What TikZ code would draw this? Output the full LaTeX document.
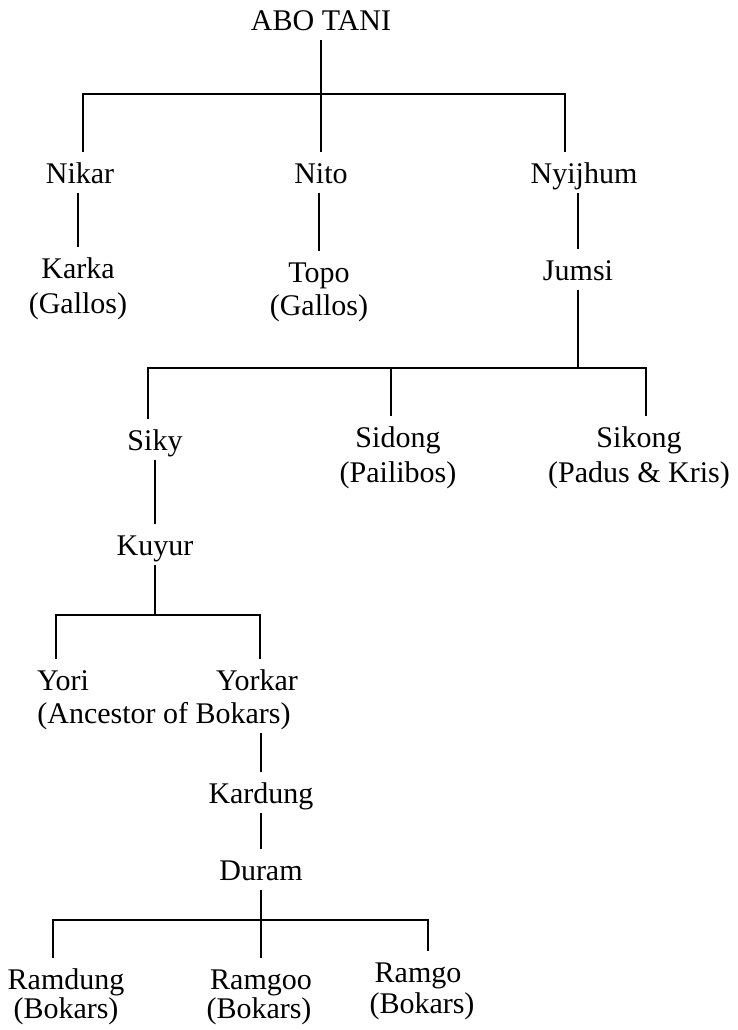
\documentclass[tikz,border=0pt]{standalone}
\usepackage{fontspec}
\setmainfont{Liberation Serif}
\usetikzlibrary{positioning}

\begin{document}
\begin{tikzpicture}[
        x=0.5pt, y=-0.5pt,
        person/.style={anchor=base, font=\fontsize{15}{18}\selectfont, inner xsep=2pt, inner ysep=5pt, text height=10.5pt, text depth=0pt},
        clan/.style={person},
        link/.style={line width=1.2pt}
    ]

    \useasboundingbox (0,0) rectangle (738,1030);

    \node[person] (abo) at (321,30) {ABO TANI};
    \node[person] (nikar) at (80,183) {Nikar};
    \node[person] (nito) at (321,183) {Nito};
    \node[person] (nyijhum) at (584,183) {Nyijhum};

    % bar coordinates
    \coordinate (b1l) at (83,94);
    \coordinate (b1r) at (565,94);
    \coordinate (b2l) at (148,368);
    \coordinate (b2m) at (391,368);
    \coordinate (b2r) at (646,368);
    \coordinate (b3l) at (56,615);
    \coordinate (b3r) at (260,615);
    \coordinate (b4l) at (53,920);
    \coordinate (b4r) at (428,920);

    \draw[link] (abo) -- (nito);
    \draw[link] (b1l |- nikar.north) -- (b1l) -- (b1r) -- (b1r |- nyijhum.north);

    \node[person] (karka) at (78,278) {Karka};
    \node[clan] (karkaclan) at (78,313) {(Gallos)};
    \node[person] (topo) at (319,282) {Topo};
    \node[clan] (topoclan) at (319,315) {(Gallos)};
    \node[person] (jumsi) at (578,280) {Jumsi};
    \draw[link] (karka |- nikar.south) -- (karka);
    \draw[link] (topo |- nito.south) -- (topo);
    \draw[link] (jumsi |- nyijhum.south) -- (jumsi);

    \node[person] (siky) at (155,450) {Siky};
    \node[person] (sidong) at (398,447) {Sidong};
    \node[clan] (sidongclan) at (398,482) {(Pailibos)};
    \node[person] (sikong) at (639,447) {Sikong};
    \node[clan] (sikongclan) at (639,482) {(Padus \& Kris)};
    \draw[link] (jumsi) -- (jumsi |- b2l);
    \draw[link] (b2l |- siky.north) -- (b2l) -- (b2r) -- (b2r |- sikong.north);
    \draw[link] (b2m) -- (b2m |- sidong.north);

    \node[person] (kuyur) at (155,555) {Kuyur};
    \draw[link] (siky) -- (kuyur);

    \node[person] (yori) at (63,690) {Yori};
    \node[person] (yorkar) at (257,690) {Yorkar};
    \node[clan] (ancestor) at (164,723) {(Ancestor of Bokars)};
    \draw[link] (kuyur) -- (kuyur |- b3l);
    \draw[link] (b3l |- yori.north) -- (b3l) -- (b3r) -- (b3r |- yorkar.north);

    \node[person] (kardung) at (261,803) {Kardung};
    \node[person] (duram) at (261,880) {Duram};
    \draw[link] (kardung |- ancestor.south) -- (kardung);
    \draw[link] (kardung) -- (duram);

    \node[person] (ramdung) at (66,989) {Ramdung};
    \node[clan] (ramdungclan) at (66,1018) {(Bokars)};
    \node[person] (ramgoo) at (261,989) {Ramgoo};
    \node[clan] (ramgooclan) at (259,1018) {(Bokars)};
    \node[person] (ramgo) at (418,982) {Ramgo};
    \node[clan] (ramgoclan) at (422,1013) {(Bokars)};
    \draw[link] (duram) -- (ramgoo);
    \draw[link] (b4l |- ramdung.north) -- (b4l) -- (b4r) -- (b4r |- ramgo.north);

\end{tikzpicture}
\end{document}
